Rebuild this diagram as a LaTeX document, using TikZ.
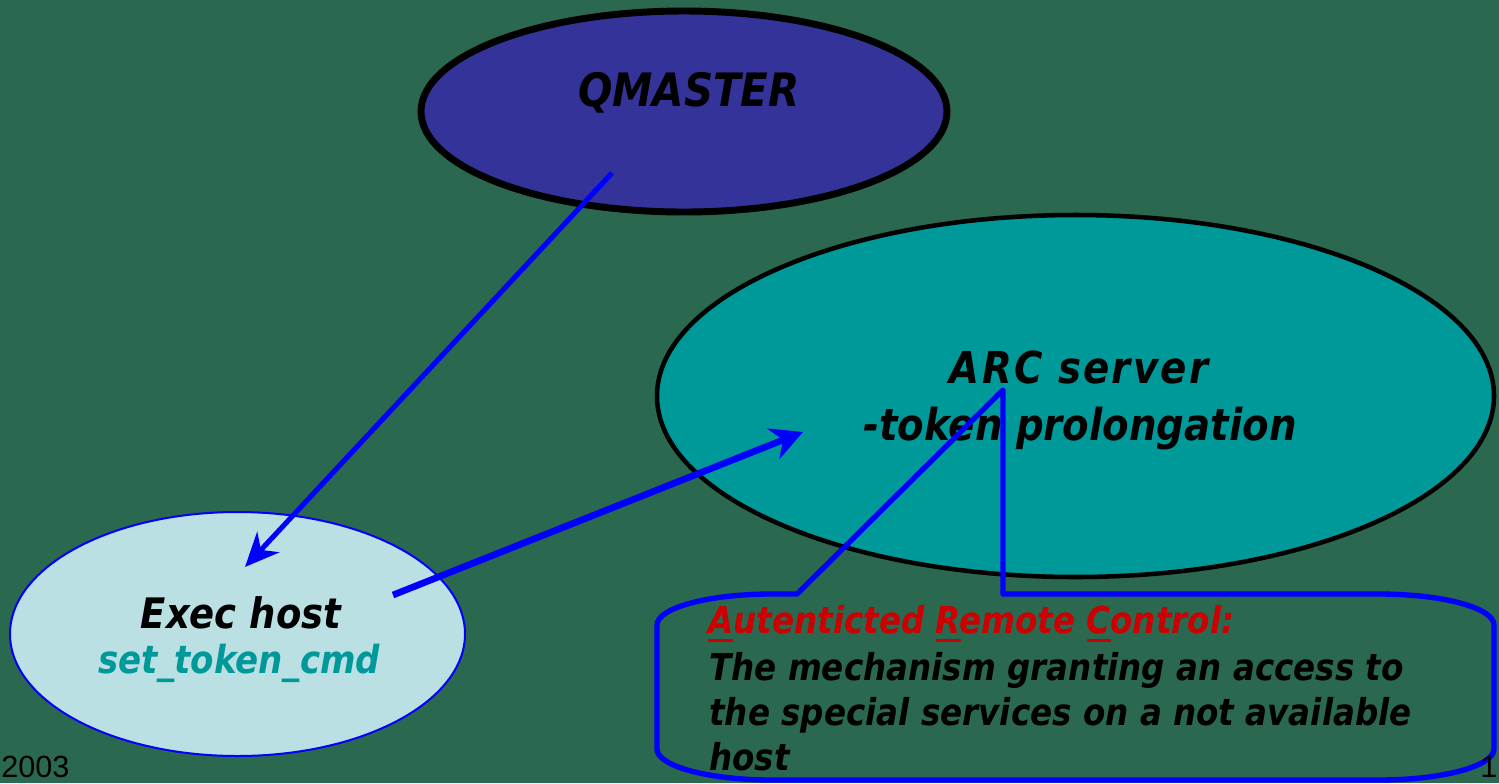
\documentclass[tikz,border=0pt]{standalone}
\usepackage{fontspec}
\usetikzlibrary{shapes.geometric,arrows.meta}
\newfontfamily\slidefont[FakeStretch=0.88]{DejaVu Sans}
\newfontfamily\footfont{Liberation Sans}
\newcommand{\keyletter}[1]{\setbox0\hbox{#1}\rlap{\rule[-6.4pt]{\wd0}{2.2pt}}#1}

\begin{document}
\begin{tikzpicture}[x=0.75pt,y=0.75pt,yscale=-1,xscale=1,
  host/.style={ellipse,inner sep=0pt},
  txt/.style={inner sep=0pt,font={\slidefont\bfseries\itshape\fontsize{#1pt}{#1pt}\selectfont}},
  flow/.style={color={rgb, 255:red, 0; green, 0; blue, 255 },draw opacity=1},
  ]
%Background
\fill[color={rgb, 255:red, 42; green, 104; blue, 80 }] (0,0) rectangle (1499,783);
\useasboundingbox (0,0) rectangle (1499,783);
\clip (0,0) rectangle (1499,783);

%Shape: Ellipse
\node[host,draw=black,line width=5.2pt,fill={rgb, 255:red, 51; green, 51; blue, 153 },minimum width=394.5pt,minimum height=150.75pt] (qmaster) at (684,111.5) {};
%Shape: Ellipse
\node[host,draw=black,line width=3.4pt,fill={rgb, 255:red, 0; green, 153; blue, 153 },minimum width=627.75pt,minimum height=271.5pt] (arc) at (1075.5,396) {};
%Shape: Ellipse
\node[host,draw={rgb, 255:red, 0; green, 0; blue, 255 },line width=1.5pt,fill={rgb, 255:red, 186; green, 224; blue, 228 },minimum width=341.25pt,minimum height=183pt] (exec) at (237.5,634) {};

% Text Nodes
\node[txt=34.5,anchor=base] (qmaster text) at (689,106) {QMASTER};
\node[txt=31.5,anchor=base] (exec text) at (241,628) {Exec host};
\node[txt=29,anchor=base,color={rgb, 255:red, 0; green, 153; blue, 153 }] (exec cmd) at (239,673) {set\_token\_cmd};
\node[txt=33,anchor=base] (arc text) at (1079,383) {\addfontfeature{LetterSpace=5}ARC server};
\node[txt=33,anchor=base] (arc task) at (1080,440) {-token prolongation};

%Straight Lines
\coordinate (qmaster out) at (612,173);
\coordinate (exec in) at (245,567);
\draw[flow,line width=3.8pt,-{Stealth[length=25.5pt,width=22.5pt,inset=8pt]}] (qmaster out) -- (exec in);
%Straight Lines
\coordinate (exec out) at (393,595);
\coordinate (arc in) at (803,432);
\draw[flow,line width=5pt,-{Stealth[length=24pt,width=24.75pt,inset=8pt]}] (exec out) -- (arc in);

%Shape: Callout
\coordinate (arc apex) at (1003,390);
\draw[flow,line width=4pt,line join=round] (797,594) -- (arc apex) -- (1003,594) -- (1379,594) arc[start angle=-90,end angle=0,x radius=115,y radius=31] -- (1494,749) arc[start angle=0,end angle=90,x radius=115,y radius=31] -- (772,780) arc[start angle=90,end angle=180,x radius=115,y radius=31] -- (657,625) arc[start angle=180,end angle=270,x radius=115,y radius=31] -- cycle;

% Callout Text
\node[txt=27.75,anchor=base west,color={rgb, 255:red, 204; green, 0; blue, 0 }] (acr title) at (708,633) {\keyletter{A}utenticted \keyletter{R}emote \keyletter{C}ontrol:};
\node[txt=27.75,anchor=base west] (acr line one) at (709,680) {The mechanism granting an access to};
\node[txt=27.75,anchor=base west] (acr line two) at (709,725) {the special services on a not available};
\node[txt=27.75,anchor=base west] (acr line three) at (709,770) {host};

% Footer
\node[inner sep=0pt,anchor=base west,font={\footfont\fontsize{23pt}{23pt}\selectfont}] (year) at (1,777) {2003};
\node[inner sep=0pt,anchor=base west,font={\footfont\fontsize{23pt}{23pt}\selectfont}] (page) at (1480,777) {1};
\end{tikzpicture}
\end{document}
